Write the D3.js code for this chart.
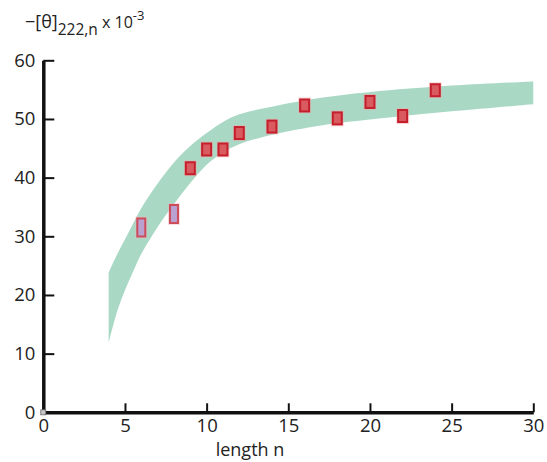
<!DOCTYPE html>
<html>
<head>
<meta charset="utf-8">
<script src="https://cdn.jsdelivr.net/npm/d3@7"></script>
<style>
  html, body { margin: 0; padding: 0; background: #fff; }
  svg { display: block; font-family: "Open Sans", sans-serif; }
</style>
</head>
<body>
<svg id="chart" width="547" height="462"></svg>
<script>
// Envelope of the predicted helicity band (lower / upper edge vs. length n)
const bandN     = [4, 4.5, 5, 5.5, 6, 7, 8, 9, 10, 11, 12, 14, 17, 20, 25, 30];
const bandLower = [11.8, 17.0, 20.8, 24.0, 27.0, 31.6, 35.5, 39.1, 42.2, 44.3, 45.7, 47.3, 48.9, 49.9, 51.3, 52.5];
const bandUpper = [23.8, 26.8, 29.5, 32.2, 34.8, 39.0, 42.6, 45.4, 47.6, 49.5, 50.8, 52.1, 53.6, 54.6, 55.7, 56.4];

// Measured peptides, short ones (purple) and longer ones (red)
const shortN      = [6, 8];
const shortValues = [31.5, 33.8];
const longN       = [9, 10, 11, 12, 14, 16, 18, 20, 22, 24];
const longValues  = [41.6, 44.8, 44.8, 47.6, 48.7, 52.3, 50.1, 52.9, 50.5, 54.9];

// Axis ticks
const xTicks = [0, 5, 10, 15, 20, 25, 30];
const yTicks = [0, 10, 20, 30, 40, 50, 60];

const svg = d3.select("#chart");

const x = d3.scaleLinear().domain([0, 30]).range([43.3, 533.3]);
const y = d3.scaleLinear().domain([0, 60]).range([412.3, 60.3]);

// Band
const bandData = bandN.map((n, i) => ({ n, lo: bandLower[i], hi: bandUpper[i] }));
const area = d3.area()
  .x(d => x(d.n))
  .y0(d => y(d.lo))
  .y1(d => y(d.hi))
  .curve(d3.curveCatmullRom.alpha(0.5));

svg.append("path")
  .datum(bandData)
  .attr("d", area)
  .attr("fill", "#a9d9c5");

// Axes
const yAxis = d3.axisLeft(y)
  .tickValues(yTicks)
  .tickSize(-11)
  .tickSizeOuter(0)
  .tickPadding(8);
const xAxis = d3.axisBottom(x)
  .tickValues(xTicks)
  .tickSize(-9)
  .tickSizeOuter(0)
  .tickPadding(6);

const gx = svg.append("g")
  .attr("transform", `translate(0,${y(0)})`)
  .call(xAxis);
const gy = svg.append("g")
  .attr("transform", `translate(${x(0)},0)`)
  .call(yAxis);

[gx, gy].forEach(g => {
  g.select(".domain").attr("stroke", "#111").attr("stroke-width", 3.5);
  g.selectAll(".tick line").attr("stroke", "#111").attr("stroke-width", 2);
  g.selectAll(".tick text")
    .attr("fill", "#222")
    .attr("font-size", 18.5)
    .attr("font-family", "'Open Sans', sans-serif");
});
gx.selectAll(".tick text").attr("dy", "0.71em").attr("y", 7);
gy.selectAll(".tick text").attr("x", -8);

// small marker at the origin
svg.append("rect")
  .attr("x", x(0) - 2.5).attr("y", y(0) - 2.5)
  .attr("width", 5).attr("height", 5)
  .attr("fill", "#c8c8c8").attr("stroke", "#666").attr("stroke-width", 0.8);

// Data markers
function drawMarkers(ns, vals, w, h, fill, stroke, halo) {
  const g = svg.append("g");
  const data = ns.map((n, i) => ({ n, v: vals[i] }));
  g.selectAll("rect.halo").data(data).join("rect")
    .attr("class", "halo")
    .attr("x", d => x(d.n) - w / 2 - 2)
    .attr("y", d => y(d.v) - h / 2 - 2)
    .attr("width", w + 4).attr("height", h + 4)
    .attr("fill", halo).attr("opacity", 0.45);
  g.selectAll("rect.mark").data(data).join("rect")
    .attr("class", "mark")
    .attr("x", d => x(d.n) - w / 2)
    .attr("y", d => y(d.v) - h / 2)
    .attr("width", w).attr("height", h)
    .attr("fill", fill)
    .attr("stroke", stroke)
    .attr("stroke-width", 2);
}
drawMarkers(shortN, shortValues, 8, 18, "#b9a2d0", "#cc4c5a", "#f2b8c0");
drawMarkers(longN, longValues, 9, 12, "#d95b60", "#c41f2b", "#f4a8ac");

// Axis titles
const title = svg.append("text")
  .attr("x", 25).attr("y", 28)
  .attr("fill", "#222")
  .attr("font-size", 18);
title.append("tspan").text("\u2212[\u03b8]");
title.append("tspan").attr("font-size", 15.5).attr("dy", 7).text("222,n");
title.append("tspan").attr("font-size", 16).attr("dy", -7).text(" x 10");
title.append("tspan").attr("font-size", 13).attr("dy", -8).text("-3");

svg.append("text")
  .attr("x", 250).attr("y", 456)
  .attr("text-anchor", "middle")
  .attr("fill", "#222")
  .attr("font-size", 18)
  .text("length n");
</script>
</body>
</html>
